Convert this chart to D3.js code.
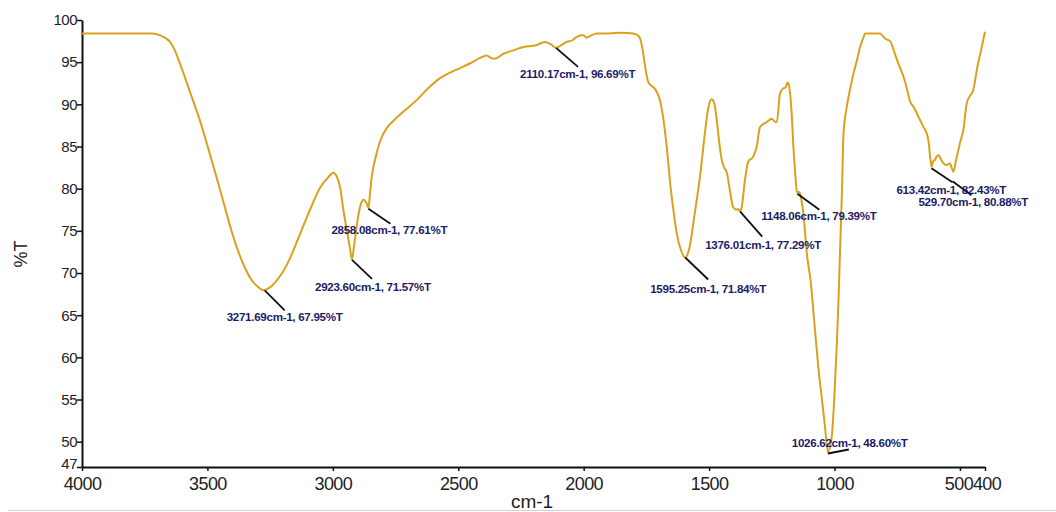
<!DOCTYPE html>
<html>
<head>
<meta charset="utf-8">
<script src="https://cdn.jsdelivr.net/npm/d3@7/dist/d3.min.js"></script>
<style>
  html, body { margin: 0; padding: 0; background: #fff; }
  svg { display: block; }
</style>
</head>
<body>
<svg id="chart" width="1056" height="512"></svg>
<script>
// ---- Data ----
const wavenumbers = [
  4000, 3800, 3720, 3700, 3670, 3649, 3630, 3609, 3570, 3530, 3495, 3463, 3435, 3410, 3380,
  3350, 3320, 3300, 3277, 3255, 3230, 3200, 3170, 3131, 3091, 3051, 3020, 2998, 2985, 2970,
  2958, 2945, 2931, 2924, 2915, 2905, 2898, 2888, 2878, 2866, 2858, 2852, 2845, 2832, 2812,
  2785, 2760, 2732, 2700, 2666, 2620, 2572, 2530, 2493, 2450, 2413, 2386, 2370, 2355, 2320,
  2280, 2240, 2190, 2154, 2130, 2110, 2090, 2068, 2045, 2028, 2010, 2001, 1988, 1975, 1960,
  1948, 1900, 1850, 1802, 1785, 1775, 1765, 1755, 1742, 1730, 1715, 1695, 1685, 1675, 1665,
  1655, 1642, 1629, 1612, 1595, 1585, 1576, 1560, 1536, 1515, 1503, 1490, 1480, 1470, 1460,
  1450, 1440, 1430, 1417, 1404, 1390, 1384, 1376, 1370, 1357, 1344, 1324, 1310, 1297, 1270,
  1250, 1240, 1230, 1217, 1204, 1195, 1188, 1182, 1177, 1170, 1164, 1157, 1150, 1143, 1137,
  1130, 1124, 1110, 1095, 1080, 1065, 1050, 1038, 1026.6, 1011, 998, 984, 978, 970, 964,
  951, 940, 924, 910, 898, 885, 878, 850, 818, 808, 798, 778, 765, 751, 738,
  725, 710, 698, 685, 665, 645, 633, 625, 618, 613, 606, 600, 593, 586, 576,
  566, 553, 540, 533, 526, 516, 506, 500, 486, 473, 460, 447, 430, 415, 400
];
const transmittance = [
  98.4, 98.4, 98.4, 98.3, 97.9, 97.4, 96.4, 94.8, 91.5, 88.1, 84.6, 81.3, 78.3, 75.6, 72.8,
  70.6, 69.0, 68.4, 67.95, 68.2, 68.9, 70.1, 71.8, 74.6, 77.5, 80.1, 81.3, 81.9, 81.5, 80.0,
  77.5, 75.2, 72.8, 71.6, 73.3, 75.5, 76.9, 78.2, 78.7, 78.3, 77.7, 79.4, 81.4, 83.4, 85.6,
  87.2, 88.0, 88.8, 89.6, 90.5, 91.9, 93.1, 93.8, 94.3, 94.9, 95.5, 95.8, 95.5, 95.4, 96.0,
  96.4, 96.8, 97.0, 97.4, 97.1, 96.7, 97.0, 97.4, 97.6, 98.0, 98.2, 98.2, 97.9, 98.1, 98.3,
  98.4, 98.4, 98.5, 98.4, 98.2, 97.8, 96.5, 94.5, 92.6, 92.2, 91.8, 90.4, 88.8, 86.6, 83.8,
  80.6, 77.4, 74.7, 72.7, 71.84, 72.3, 73.3, 76.5, 81.5, 87.0, 89.6, 90.6, 90.2, 88.3, 85.6,
  83.5, 82.5, 82.0, 79.8, 77.8, 77.5, 77.6, 77.3, 77.8, 81.0, 83.2, 83.8, 85.0, 87.3, 87.9,
  88.3, 88.0, 87.9, 91.3, 91.9, 92.0, 92.6, 92.3, 91.3, 88.5, 85.0, 82.0, 79.6, 79.6, 79.4,
  78.3, 77.1, 72.2, 69.0, 64.0, 59.0, 55.0, 51.8, 48.8, 50.6, 56.9, 66.8, 72.5, 80.0, 86.6,
  89.7, 91.5, 93.7, 95.3, 96.8, 97.9, 98.4, 98.4, 98.4, 98.1, 97.8, 97.5, 96.5, 95.3, 94.3,
  93.3, 91.7, 90.3, 89.7, 88.5, 87.3, 86.6, 85.6, 83.6, 82.6, 83.3, 83.4, 83.8, 84.0, 83.5,
  83.0, 82.8, 83.0, 82.5, 82.0, 83.3, 84.6, 85.4, 87.0, 90.1, 91.0, 91.7, 94.5, 96.5, 98.6
];

// Peak annotations (values as printed on the chart)
const peakWavenumbers = [3271.69, 2923.60, 2858.08, 2110.17, 1595.25, 1376.01, 1148.06, 1026.62, 613.42, 529.70];
const peakTransmittance = [67.95, 71.57, 77.61, 96.69, 71.84, 77.29, 79.39, 48.60, 82.43, 80.88];

// Axis ticks
const xTicks = [4000, 3500, 3000, 2500, 2000, 1500, 1000, 500, 400];
const yTicks = [100, 95, 90, 85, 80, 75, 70, 65, 60, 55, 50, 47];
const xTitle = "cm-1";
const yTitle = "%T";

// ---- Layout (label offsets relative to peak point, px) ----
const leaderOffsets = [[20, 20], [20, 19], [22, 15], [22, 19], [23, 22], [22, 25], [22, 16], [21, -4], [21, 14], [19, 14]];
const textOffsets = [[-38, 26.5], [-37, 27], [-37, 21.3], [-36, 26], [-35, 31], [-35, 33], [-36, 22.3], [-36, -10.6], [-35, 22], [-34, 20.5]];

const svg = d3.select("#chart");
const x = d3.scaleLinear().domain([4000, 400]).range([82, 985]);
const y = d3.scaleLinear().domain([47, 100]).range([467, 20]);

// bottom faint border line (as in the scanned figure)
svg.append("line")
  .attr("x1", 8).attr("x2", 1056).attr("y1", 510.5).attr("y2", 510.5)
  .attr("stroke", "#d0d0d0").attr("stroke-width", 1);

// Axes
const xAxis = d3.axisBottom(x).tickValues(xTicks).tickFormat(d3.format("d"))
  .tickSize(4).tickSizeOuter(0).tickPadding(6);
const yAxis = d3.axisLeft(y).tickValues(yTicks).tickFormat(d3.format("d"))
  .tickSize(5).tickSizeOuter(0).tickPadding(0);

const gx = svg.append("g").attr("transform", `translate(0,${y(47)})`).call(xAxis);
const gy = svg.append("g").attr("transform", `translate(${x(4000)},0)`).call(yAxis);

gx.select(".domain").attr("stroke", "#111").attr("stroke-width", 2);
gy.select(".domain").attr("stroke", "#111").attr("stroke-width", 2);
gx.selectAll(".tick line").attr("stroke", "#111").attr("stroke-width", 1.5);
gy.selectAll(".tick line").attr("stroke", "#111").attr("stroke-width", 1.5);
gx.selectAll(".tick text")
  .attr("font-family", "'Liberation Sans Narrow', 'Liberation Sans', Arial, sans-serif")
  .attr("font-size", 18).attr("fill", "#222").attr("letter-spacing", -0.6)
  .attr("dx", d => d === 500 ? -1.5 : (d === 400 ? 1.5 : 0));
gy.selectAll(".tick text")
  .attr("font-family", "'Liberation Sans', Arial, sans-serif")
  .attr("font-size", 15).attr("fill", "#222").attr("letter-spacing", -0.5)
  .attr("dy", d => d === 47 ? "0.12em" : "0.32em");

// Axis titles
svg.append("text")
  .attr("x", 532).attr("y", 508)
  .attr("text-anchor", "middle")
  .attr("font-family", "'Liberation Sans', Arial, sans-serif")
  .attr("font-size", 19).attr("fill", "#222")
  .text(xTitle);
svg.append("text")
  .attr("transform", "translate(27,254) rotate(-90)")
  .attr("text-anchor", "middle")
  .attr("font-family", "'Liberation Sans', Arial, sans-serif")
  .attr("font-size", 18).attr("fill", "#222")
  .text(yTitle);

// Spectrum line
const spectrum = wavenumbers.map((w, i) => ({ w, t: transmittance[i] }));
const line = d3.line().x(d => x(d.w)).y(d => y(d.t)).curve(d3.curveMonotoneX);
svg.append("path")
  .datum(spectrum)
  .attr("d", line)
  .attr("fill", "none")
  .attr("stroke", "#D9A21E")
  .attr("stroke-width", 2)
  .attr("stroke-linejoin", "round");

// Annotations
const peaks = peakWavenumbers.map((w, i) => ({ w, t: peakTransmittance[i], lo: leaderOffsets[i], to: textOffsets[i] }));
const ann = svg.append("g");
ann.selectAll("line.leader").data(peaks).join("line")
  .attr("class", "leader")
  .attr("x1", d => x(d.w)).attr("y1", d => y(d.t))
  .attr("x2", d => x(d.w) + d.lo[0]).attr("y2", d => y(d.t) + d.lo[1])
  .attr("stroke", "#111").attr("stroke-width", 1.8);
ann.selectAll("text.plabel").data(peaks).join("text")
  .attr("class", "plabel")
  .attr("x", d => x(d.w) + d.to[0])
  .attr("y", d => y(d.t) + d.to[1])
  .attr("dy", "0.35em")
  .attr("font-family", "'Liberation Sans', Arial, sans-serif")
  .attr("font-size", 11.6)
  .attr("font-weight", "bold")
  .attr("letter-spacing", -0.3)
  .attr("fill", "#1c1c66")
  .text(d => `${d.w.toFixed(2)}cm-1, ${d.t.toFixed(2)}%T`);
</script>
</body>
</html>
